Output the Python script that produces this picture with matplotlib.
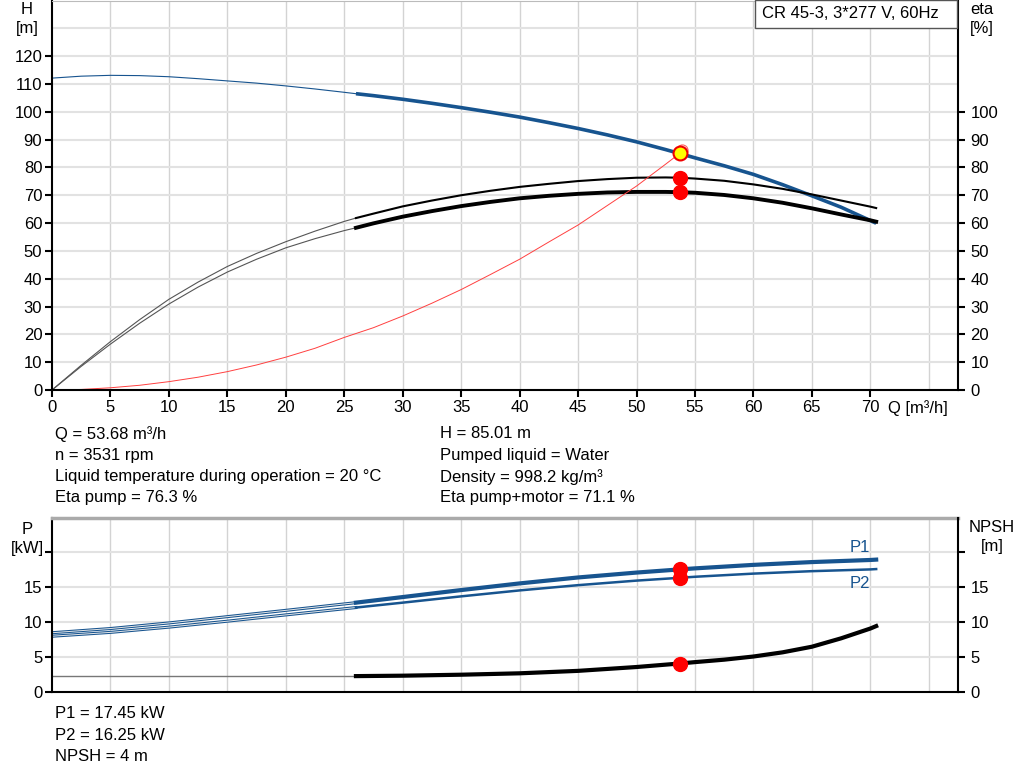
import matplotlib
matplotlib.use("Agg")
import matplotlib.pyplot as plt
from matplotlib.patches import Rectangle
import numpy as np

plt.rcParams['font.family'] = ['Liberation Sans', 'DejaVu Sans']
plt.rcParams['font.size'] = 12

# ---- data ----
q = [0, 2.5, 5, 7.5, 10, 12.5, 15, 17.5, 20, 22.5, 25, 26, 27.5, 30, 32.5, 35,
     37.5, 40, 42.5, 45, 47.5, 50, 52.5, 53.68, 55, 57.5, 60, 62.5, 65, 67.5,
     70, 70.5]
head = [112.1, 112.8, 113.1, 113.0, 112.6, 111.9, 111.1, 110.3, 109.3, 108.2,
        107.0, 106.5, 105.8, 104.5, 103.05, 101.5, 99.85, 98.1, 96.1, 94.0,
        91.7, 89.2, 86.4, 85.01, 83.45, 80.6, 77.5, 73.8, 69.8, 65.7, 60.9,
        59.95]
eta_pump = [0, 8.9, 17.4, 25.3, 32.6, 38.8, 44.4, 49.1, 53.3, 57.1, 60.6, 61.8,
            63.4, 66.0, 68.1, 70.0, 71.6, 73.0, 74.1, 75.1, 75.8, 76.3, 76.4,
            76.3, 76.0, 75.2, 73.9, 72.3, 70.3, 68.1, 65.9, 65.4]
eta_total = [0, 8.5, 16.5, 24.0, 30.9, 37.0, 42.4, 47.0, 51.1, 54.4, 57.3,
             58.3, 59.9, 62.3, 64.3, 66.1, 67.6, 68.9, 69.8, 70.5, 71.0, 71.2,
             71.2, 71.1, 70.9, 70.1, 68.9, 67.3, 65.3, 63.1, 61.0, 60.5]

q_sys = [0, 2.5, 5, 7.5, 10, 12.5, 15, 17.5, 20, 22.5, 25, 27.5, 30, 32.5, 35,
         37.5, 40, 42.5, 45, 47.5, 50, 52.5, 53.68]
h_sys = [0, 0.2, 0.8, 1.7, 3.0, 4.6, 6.6, 9.0, 11.8, 15.0, 18.9, 22.4, 26.6,
         31.2, 36.1, 41.5, 47.0, 53.2, 59.3, 66.3, 73.3, 81.2, 85.0]

q_p = [0, 5, 10, 15, 20, 26, 30, 35, 40, 45, 50, 53.68, 55, 60, 65, 70, 70.5]
p1 = [8.4, 9.0, 9.8, 10.7, 11.6, 12.7, 13.5, 14.5, 15.45, 16.3, 17.0, 17.45,
      17.6, 18.1, 18.5, 18.8, 18.85]
p2 = [7.9, 8.45, 9.2, 10.05, 10.95, 12.0, 12.7, 13.6, 14.45, 15.2, 15.85,
      16.25, 16.4, 16.85, 17.2, 17.45, 17.5]

q_npsh = [26, 30, 35, 40, 45, 50, 53.68, 55, 57.5, 60, 62.5, 65, 67.5, 70, 70.5]
npsh = [2.2, 2.26, 2.4, 2.6, 2.95, 3.5, 4.0, 4.2, 4.55, 5.0, 5.6, 6.4, 7.6,
        9.0, 9.35]
q_npsh_thin = [0, 26]
npsh_thin = [2.2, 2.2]

duty_q = 53.68
duty_h = 85.01
duty_eta_pump = 76.3
duty_eta_total = 71.1
duty_p1 = 17.45
duty_p2 = 16.25
duty_npsh = 4.0

info_left = ["Q = 53.68 m³/h", "n = 3531 rpm",
             "Liquid temperature during operation = 20 °C", "Eta pump = 76.3 %"]
info_right = ["H = 85.01 m", "Pumped liquid = Water",
              "Density = 998.2 kg/m³", "Eta pump+motor = 71.1 %"]
info_bottom = ["P1 = 17.45 kW", "P2 = 16.25 kW", "NPSH = 4 m"]
title = "CR 45-3, 3*277 V, 60Hz"

blue = "#17548f"
grid_c = "#d3d3d3"
W, H = 1024, 781

q = np.array(q)
thin = q <= 26
thick = q >= 26
q_p = np.array(q_p)
thin_p = q_p <= 26
thick_p = q_p >= 26


def px(x, y):
    return x / W, 1 - y / H


fig = plt.figure(figsize=(10.24, 7.81), dpi=100)

# ---------------- top panel ----------------
ax = fig.add_axes([52 / W, 1 - 390 / H, 906 / W, 389.5 / H])
ax.set_xlim(0, 77.5)
ax.set_ylim(0, 140)
for xv in range(5, 80, 5):
    ax.axvline(xv, color=grid_c, lw=1, zorder=0)
for yv in range(10, 140, 10):
    ax.axhline(yv, color="#e2e2e2", lw=1.5, zorder=0)

ax.plot(q[thin], np.array(head)[thin], color=blue, lw=0.8)
ax.plot(q[thick], np.array(head)[thick], color=blue, lw=2.6, solid_capstyle='butt')
ax.plot(q[thin], np.array(eta_pump)[thin], color="#555555", lw=0.8)
ax.plot(q[thin], np.array(eta_total)[thin], color="#555555", lw=0.8)
ax.plot(q[thick], np.array(eta_pump)[thick], color="black", lw=1.5)
ax.plot(q[thick], np.array(eta_total)[thick], color="black", lw=2.8)
ax.plot(q_sys, h_sys, color="#ff4040", lw=0.7)

ax.plot([duty_q + 0.25], [duty_h + 1.2], 'o', ms=8, mfc='none', mec='#ff6060', mew=0.8)
ax.plot([duty_q], [duty_h], 'o', ms=10, mfc='#ffff00', mec='#ee0000', mew=1.5, zorder=5)
ax.plot([duty_q, duty_q], [duty_eta_pump, duty_eta_total], 'o', ms=10,
        color='#ff0000', mec='#ff0000', ls='none', zorder=5)

ax.set_xticks(range(0, 75, 5))
ax.set_yticks(range(0, 130, 10))
ax.tick_params(direction='out', length=5, width=1.5, pad=2)
for s in ['left', 'bottom']:
    ax.spines[s].set_linewidth(1.5)
ax.spines['top'].set_color('#bbbbbb')
ax.spines['right'].set_visible(False)

axr = ax.twinx()
axr.set_ylim(0, 140)
axr.set_yticks(range(0, 110, 10))
axr.tick_params(direction='out', length=5, width=1.5, pad=4)
axr.spines['right'].set_linewidth(1.5)
axr.spines['top'].set_visible(False)
axr.spines['left'].set_visible(False)
axr.spines['bottom'].set_visible(False)

fig.text(*px(27, 9), "H", ha='center', va='center')
fig.text(*px(27, 29), "[m]", ha='center', va='center')
fig.text(*px(982, 9), "eta", ha='center', va='center')
fig.text(*px(982, 29), "[%]", ha='center', va='center')
fig.text(*px(888, 408), "Q [m³/h]", ha='left', va='center')

# title box flush with the top edge and the right axis
fig.patches.append(Rectangle(px(755, 28), 202 / W, 28 / H, transform=fig.transFigure,
                             fc='white', ec='#555555', lw=1, zorder=10))
fig.text(*px(762, 14), title, ha='left', va='center', zorder=11)

for i, t in enumerate(info_left):
    fig.text(*px(55, 434 + i * 21.3), t, ha='left', va='center')
for i, t in enumerate(info_right):
    fig.text(*px(440, 434 + i * 21.3), t, ha='left', va='center')

# ---------------- bottom panel ----------------
bx = fig.add_axes([52 / W, 1 - 691.5 / H, 906 / W, 173.5 / H])
bx.set_xlim(0, 77.5)
bx.set_ylim(0, 24.8)
for xv in range(5, 80, 5):
    bx.axvline(xv, color=grid_c, lw=1, zorder=0)
for yv in range(5, 25, 5):
    bx.axhline(yv, color="#e2e2e2", lw=1.5, zorder=0)

p1a, p2a = np.array(p1), np.array(p2)
bx.plot(q_p[thin_p], p1a[thin_p], color=blue, lw=2.2)
bx.plot(q_p[thin_p], p1a[thin_p], color="#e8e8e8", lw=0.7)
bx.plot(q_p[thin_p], p2a[thin_p], color=blue, lw=2.2)
bx.plot(q_p[thin_p], p2a[thin_p], color="#e8e8e8", lw=0.7)
bx.plot(q_p[thick_p], p1a[thick_p], color=blue, lw=3)
bx.plot(q_p[thick_p], p2a[thick_p], color=blue, lw=1.8)
bx.plot(q_npsh_thin, npsh_thin, color="#777777", lw=1)
bx.plot(q_npsh, npsh, color="black", lw=3)
bx.plot([duty_q] * 3, [duty_p1, duty_p2, duty_npsh], 'o', ms=10,
        color='#ff0000', ls='none', zorder=5)
bx.text(69.1, 20.6, "P1", color=blue, ha='center', va='center')
bx.text(69.1, 15.5, "P2", color=blue, ha='center', va='center')

bx.set_xticks([])
bx.set_yticks(range(0, 25, 5))
bx.set_yticklabels(["0", "5", "10", "15", ""])
bx.tick_params(direction='out', length=5, width=1.5, pad=2)
for s in ['left', 'bottom']:
    bx.spines[s].set_linewidth(1.5)
bx.spines['top'].set_color('#aaaaaa')
bx.spines['top'].set_linewidth(2.5)
bx.spines['right'].set_visible(False)

bxr = bx.twinx()
bxr.set_ylim(0, 24.8)
bxr.set_yticks(range(0, 25, 5))
bxr.set_yticklabels(["0", "5", "10", "15", ""])
bxr.tick_params(direction='out', length=5, width=1.5, pad=4)
bxr.spines['right'].set_linewidth(1.5)
for s in ['top', 'left', 'bottom']:
    bxr.spines[s].set_visible(False)

fig.text(*px(27, 530), "P", ha='center', va='center')
fig.text(*px(27, 549), "[kW]", ha='center', va='center')
fig.text(*px(992, 528), "NPSH", ha='center', va='center')
fig.text(*px(992, 547), "[m]", ha='center', va='center')

for i, t in enumerate(info_bottom):
    fig.text(*px(55, 714 + i * 21.3), t, ha='left', va='center')

fig.savefig("out.png", dpi=100)
